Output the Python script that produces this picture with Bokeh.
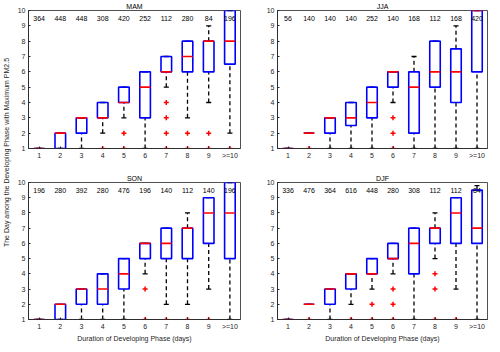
import math
from bokeh.plotting import figure
from bokeh.models import FixedTicker, Label, Range1d
from bokeh.layouts import row, column
from bokeh.core.properties import value
from bokeh.embed import file_html
from bokeh.resources import INLINE

categories = [1, 2, 3, 4, 5, 6, 7, 8, 9, 10]
tick_labels = ["1", "2", "3", "4", "5", "6", "7", "8", "9", ">=10"]
y_ticks = [1, 2, 3, 4, 5, 6, 7, 8, 9, 10]

# MAM
mam_counts = [364, 448, 448, 308, 420, 252, 112, 280, 84, 196]
mam_q1 = [1, 1, 2, 3, 4, 3, 6, 6, 6, 6.5]
mam_med = [1, 2, 3, 3, 4, 5, 6, 7, 8, 8]
mam_q3 = [1, 2, 3, 4, 5, 6, 7, 8, 8, 10]
mam_lo = [1, 1, 1, 2, 3, 1, 5, 3, 4, 2]
mam_hi = [1, 2, 3, 4, 5, 6, 7, 8, 9, 10]
mam_out_x = [4, 5, 5, 7, 7, 7, 7, 8, 8, 9, 9, 10]
mam_out_y = [1, 2, 1, 4, 3, 2, 1, 2, 1, 2, 1, 1]

# JJA
jja_counts = [56, 140, 140, 140, 252, 140, 168, 112, 168, 420]
jja_q1 = [1, 2, 2, 2.5, 3, 5, 2, 5, 4, 6]
jja_med = [1, 2, 3, 3, 4, 6, 5, 6, 6, 10]
jja_q3 = [1, 2, 3, 4, 5, 6, 6, 8, 7.5, 10]
jja_lo = [1, 2, 1, 1, 1, 4, 1, 1, 1, 1]
jja_hi = [1, 2, 3, 4, 5, 6, 7, 8, 9, 10]
jja_out_x = [2, 6, 6, 6]
jja_out_y = [1, 3, 2, 1]

# SON
son_counts = [196, 280, 392, 280, 476, 196, 140, 112, 140, 196]
son_q1 = [1, 1, 2, 2, 3, 5, 5, 5, 6, 5]
son_med = [1, 2, 3, 3, 4, 6, 6, 7, 8, 8]
son_q3 = [1, 2, 3, 4, 5, 6, 7, 7, 9, 10]
son_lo = [1, 1, 1, 1, 1, 4, 2, 2, 3, 1]
son_hi = [1, 2, 3, 4, 5, 6, 7, 8, 9, 10]
son_out_x = [6, 6, 7, 8, 9]
son_out_y = [3, 1, 1, 1, 1]

# DJF
djf_counts = [336, 476, 364, 616, 448, 280, 308, 112, 112, 84]
djf_q1 = [1, 2, 2, 3, 4, 5, 4, 6, 6, 6]
djf_med = [1, 2, 3, 4, 4, 5, 6, 7, 8, 7]
djf_q3 = [1, 2, 3, 4, 5, 6, 7, 7, 9, 9.5]
djf_lo = [1, 2, 1, 2, 3, 4, 1, 5, 3, 1]
djf_hi = [1, 2, 3, 4, 5, 6, 7, 8, 9, 9.8]
djf_out_x = [2, 4, 5, 5, 6, 6, 6, 8, 8, 8, 9]
djf_out_y = [1, 1, 2, 1, 3, 2, 1, 4, 3, 1, 1]

FONT = "Liberation Sans"
AX = "#262626"
FS = "7px"
BOX_HALF = 0.25
CAP_HALF = 0.12


def panel(title, counts, q1, med, q3, lo, hi, ox, oy, width, height,
          mbl, mbr, mbt, mbb, xlabel=None):
    p = figure(width=width, height=height, x_range=Range1d(0.5, 10.5),
               y_range=Range1d(1, 10), output_backend="svg",
               toolbar_location=None, min_border_left=mbl,
               min_border_right=mbr, min_border_top=mbt,
               min_border_bottom=mbb)
    p.title.text = title
    p.title.align = "center"
    p.title.text_font = FONT
    p.title.text_font_size = FS
    p.title.text_font_style = "normal"
    p.title.text_color = "#000000"
    p.title.standoff = 1
    p.xgrid.visible = False
    p.ygrid.visible = False
    p.outline_line_color = AX
    p.outline_line_width = 0.8
    p.background_fill_color = "white"
    p.border_fill_color = "white"

    xa = p.below[0]
    ya = p.left[0]
    for ax in (xa, ya):
        ax.axis_line_color = AX
        ax.axis_line_width = 0.8
        ax.major_tick_line_color = AX
        ax.major_tick_in = 2
        ax.major_tick_out = 0
        ax.minor_tick_line_color = None
        ax.major_label_text_font = FONT
        ax.major_label_text_color = AX
        ax.major_label_text_font_size = FS
        ax.major_label_standoff = 3

    xa.ticker = FixedTicker(ticks=categories)
    xa.major_label_overrides = {c: l for c, l in zip(categories, tick_labels)}
    ya.ticker = FixedTicker(ticks=y_ticks)
    if xlabel:
        xa.axis_label = xlabel
        xa.axis_label_text_font = FONT
        xa.axis_label_text_font_size = FS
        xa.axis_label_text_font_style = "normal"
        xa.axis_label_text_color = AX
        xa.axis_label_standoff = 2

    x = categories
    # whiskers
    p.segment(x0=x, y0=q3, x1=x, y1=hi, line_color="black", line_width=1.3,
              line_dash="4 3")
    p.segment(x0=x, y0=lo, x1=x, y1=q1, line_color="black", line_width=1.3,
              line_dash="4 3")
    # caps
    p.segment(x0=[c - CAP_HALF for c in x], y0=hi, x1=[c + CAP_HALF for c in x],
              y1=hi, line_color="black", line_width=1.3)
    p.segment(x0=[c - CAP_HALF for c in x], y0=lo, x1=[c + CAP_HALF for c in x],
              y1=lo, line_color="black", line_width=1.3)
    # boxes
    p.quad(left=[c - BOX_HALF for c in x], right=[c + BOX_HALF for c in x],
           bottom=q1, top=q3, fill_color=None, line_color="#0000ff",
           line_width=1.6)
    # medians
    p.segment(x0=[c - BOX_HALF for c in x], y0=med, x1=[c + BOX_HALF for c in x],
              y1=med, line_color="#ff0000", line_width=1.6)
    # outliers
    p.scatter(x=ox, y=oy, marker="cross", size=5, line_color="#ff0000",
              line_width=1.5)
    # counts
    p.text(x=x, y=[9.45] * len(x), text=[str(c) for c in counts],
           text_font=value(FONT), text_font_size=value(FS),
           text_align="center", text_baseline="middle", text_color="black")
    return p


TOP_H = 165
BOT_H = 179
L_W = 248
R_W = 232

p_mam = panel("MAM", mam_counts, mam_q1, mam_med, mam_q3, mam_lo, mam_hi,
              mam_out_x, mam_out_y, L_W, TOP_H, 16, 20, 9, 17)
p_jja = panel("JJA", jja_counts, jja_q1, jja_med, jja_q3, jja_lo, jja_hi,
              jja_out_x, jja_out_y, R_W, TOP_H, 17, 5, 9, 17)
p_son = panel("SON", son_counts, son_q1, son_med, son_q3, son_lo, son_hi,
              son_out_x, son_out_y, L_W, BOT_H, 16, 20, 17, 23,
              xlabel="Duration of Developing Phase (days)")
p_djf = panel("DJF", djf_counts, djf_q1, djf_med, djf_q3, djf_lo, djf_hi,
              djf_out_x, djf_out_y, R_W, BOT_H, 17, 5, 17, 23,
              xlabel="Duration of Developing Phase (days)")

lab = figure(width=12, height=TOP_H + BOT_H, x_range=Range1d(0, 12),
             y_range=Range1d(0, TOP_H + BOT_H), output_backend="svg",
             toolbar_location=None, min_border=0,
             x_axis_location=None, y_axis_location=None)
lab.outline_line_color = None
lab.xgrid.visible = False
lab.ygrid.visible = False
lab.add_layout(Label(x=6, y=192, angle=math.pi / 2,
                     text="The Day among the Developing Phase with Maximum PM2.5",
                     text_font=FONT, text_font_size=FS, text_color=AX,
                     text_align="center", text_baseline="middle"))

layout = row(lab, column(row(p_mam, p_jja), row(p_son, p_djf)))

open("out.html", "w").write(file_html(layout, INLINE))
